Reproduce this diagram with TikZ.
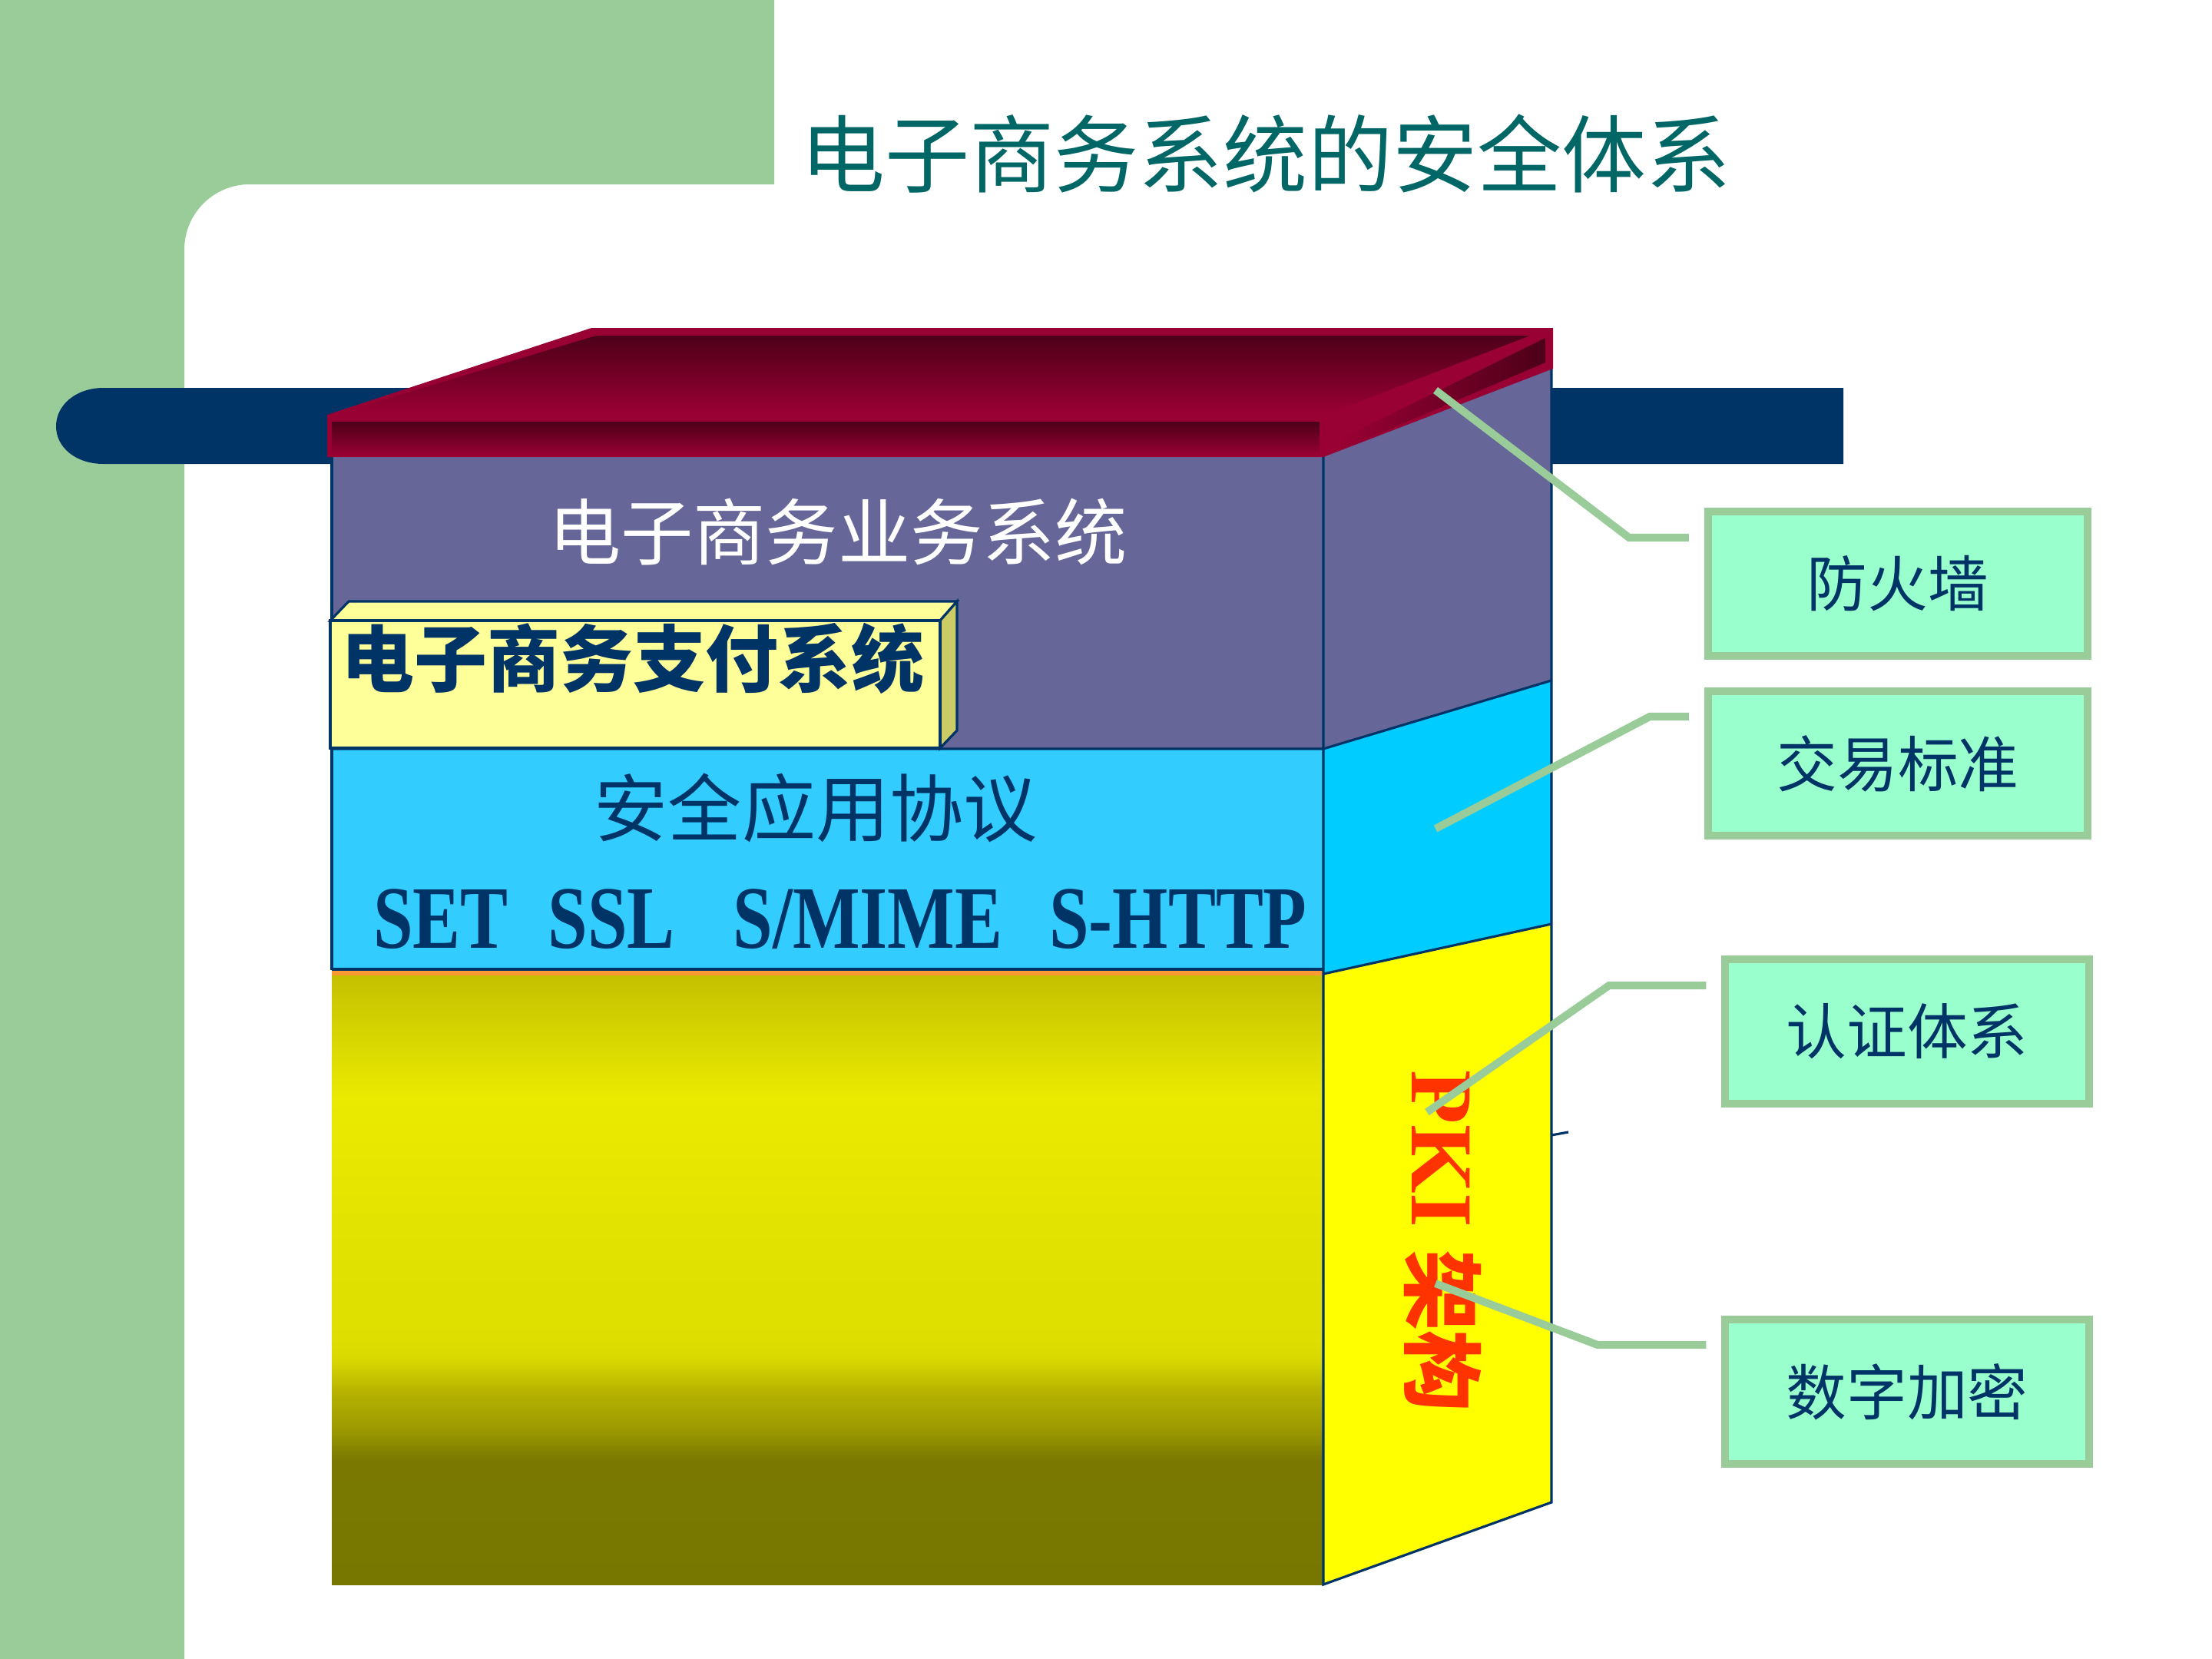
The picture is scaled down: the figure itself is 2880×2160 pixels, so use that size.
\documentclass[tikz,border=0pt]{standalone}
\usepackage{fontspec}
\usepackage{graphicx}
\newfontfamily\cjk{Noto Sans CJK SC}
\newfontfamily\tnr{Liberation Serif}
\newcommand\setfs[1]{\fontsize{#1}{#1}\selectfont}
\definecolor{bggreen}{HTML}{99CC99}
\definecolor{barblue}{HTML}{003366}
\definecolor{crimson}{HTML}{990033}
\definecolor{darkred}{HTML}{4D0019}
\definecolor{purp}{HTML}{666699}
\definecolor{cyanfront}{HTML}{33CCFF}
\definecolor{cyanside}{HTML}{00CCFF}
\definecolor{yside}{HTML}{FFFF00}
\definecolor{navy}{HTML}{003366}
\definecolor{teal6}{HTML}{006666}
\definecolor{pkired}{HTML}{FF3300}
\definecolor{payfill}{HTML}{FFFF99}
\definecolor{payside}{HTML}{CCCC66}
\definecolor{mint}{HTML}{99FFCC}
\definecolor{orangeline}{HTML}{FF9933}
\definecolor{ya}{HTML}{777700}
\definecolor{yb}{HTML}{7A7800}
\definecolor{yc}{HTML}{9A9800}
\definecolor{yd}{HTML}{B8B400}
\definecolor{ye}{HTML}{D8D800}
\definecolor{yf}{HTML}{DEDE00}
\definecolor{yg}{HTML}{E4E400}
\definecolor{yh}{HTML}{EAEA00}
\definecolor{yi}{HTML}{C4C000}
\pgfdeclareverticalshading{yellowgrad}{100bp}{color(0bp)=(ya); color(25bp)=(ya); color(35.19bp)=(yb); color(37.58bp)=(yc); color(40.97bp)=(yd); color(43.36bp)=(ye); color(45.06bp)=(yf); color(56.32bp)=(yg); color(64.81bp)=(yh); color(75bp)=(yi); color(100bp)=(yi)}
\tikzset{
  boxline/.style={draw=navy, line width=0.9pt},
  callout/.style={draw=bggreen, fill=mint, line width=2.85pt, minimum width=4.94cm, minimum height=1.87cm, inner sep=0pt, font=\cjk\setfs{22.4pt}, text=navy},
  conn/.style={draw=bggreen, line width=2.85pt, shorten <=0.2cm},
  label/.style={inner sep=0pt},
}
\begin{document}
\begin{tikzpicture}[x=0.01cm, y=-0.01cm]
\useasboundingbox (0,0) rectangle (2880,2160);
% background
\fill[white] (0,0) rectangle (2880,2160);
\fill[bggreen] (0,0) -- (1008,0) -- (1008,240) -- (325,240) .. controls (278,240) and (240,278) .. (240,325) -- (240,2160) -- (0,2160) -- cycle;
% dark bar
\fill[barblue] (2400,505) -- (135,505) .. controls (98,505) and (73,528) .. (73,555) .. controls (73,582) and (98,604) .. (135,604) -- (2400,604) -- cycle;
% front faces
\fill[purp] (432,595) rectangle (1723,975);
\fill[cyanfront] (432,975) rectangle (1723,1264);
\shade[shading=yellowgrad] (432,1268) rectangle (1723,2063);
\fill[orangeline] (432,1263) rectangle (1723,1270);
% side faces
\fill[purp] (1723,593) -- (2020,480) -- (2020,886) -- (1723,975) -- cycle;
\fill[cyanside] (1723,975) -- (2020,886) -- (2020,1203) -- (1723,1268) -- cycle;
\fill[yside] (1723,1268) -- (2020,1203) -- (2020,1956) -- (1723,2063) -- cycle;
% outlines
\draw[boxline] (432,595) -- (432,1263);
\draw[boxline] (432,975) -- (1723,975) -- (2020,886);
\draw[boxline] (432,1262) -- (1723,1262);
\draw[boxline] (1723,1268) -- (2020,1203);
\draw[boxline] (1723,593) -- (1723,2063) -- (2020,1956) -- (2020,480);
\draw[navy, line width=0.9pt] (2020,1478) -- (2042,1474);
% roof
\fill[crimson] (426,540) -- (770,427) -- (2022,427) -- (2022,480) -- (1723,595) -- (426,595) -- cycle;
\shade[top color=darkred, bottom color=crimson] (448,536) -- (776,437) -- (1992,437) -- (1733,537) -- cycle;
\shade[top color=darkred, bottom color=crimson] (432,549) rectangle (1718,593);
\shade[left color=crimson, right color=darkred] (1745,572) -- (2012,440) -- (2012,472) -- (1745,586) -- cycle;
% payment box
\filldraw[fill=payfill, boxline] (430,808) -- (454,783) -- (1246,783) -- (1224,808) -- cycle;
\filldraw[fill=payside, boxline] (1224,808) -- (1246,783) -- (1246,951) -- (1224,974) -- cycle;
\filldraw[fill=payfill, boxline] (430,808) rectangle (1224,974);
% texts
\node[label, font=\cjk\setfs{31.3pt}, text=teal6] (title) at (1648,200) {电子商务系统的安全体系};
\node[label, font=\cjk\setfs{26.8pt}, text=white] (biz) at (1091,692) {电子商务业务系统};
\node[label, font=\cjk\bfseries\setfs{27pt}, text=navy] (pay) at (824,857) {电子商务支付系统};
\node[label, font=\cjk\setfs{27.3pt}, text=navy] (proto) at (1062,1052) {安全应用协议};
\node[label, font=\tnr\bfseries\setfs{33pt}, text=navy, anchor=base] (set) at (574,1234) {\scalebox{0.8}[1]{SET}};
\node[label, font=\tnr\bfseries\setfs{33pt}, text=navy, anchor=base] (ssl) at (796,1234) {\scalebox{0.8}[1]{SSL}};
\node[label, font=\tnr\bfseries\setfs{33pt}, text=navy, anchor=base] (smime) at (1130,1234) {\scalebox{0.8}[1]{S/MIME}};
\node[label, font=\tnr\bfseries\setfs{33pt}, text=navy, anchor=base] (shttp) at (1534,1234) {\scalebox{0.8}[1]{S-HTTP}};
\node[label, rotate=-90, anchor=base, text=pkired] (pki) at (1838,1616) {\tnr\bfseries\setfs{32.7pt}PKI \cjk\bfseries\setfs{30pt}架构};
% callouts
\node[callout] (fw) at (2471,760) {防火墙};
\node[callout] (std) at (2471,994) {交易标准};
\node[callout, minimum width=4.73cm] (auth) at (2483,1343) {认证体系};
\node[callout, minimum width=4.73cm] (enc) at (2483,1812) {数字加密};
% connectors
\coordinate (fwK) at (2121,700);
\coordinate (fwP) at (1869,508);
\coordinate (stdK) at (2148,933);
\coordinate (stdP) at (1869,1079);
\coordinate (authK) at (2095,1283);
\coordinate (authP) at (1858,1448);
\coordinate (encK) at (2080,1751);
\coordinate (encP) at (1869,1671);
\draw[conn] (fw.west |- fwK) -- (fwK) -- (fwP);
\draw[conn] (std.west |- stdK) -- (stdK) -- (stdP);
\draw[conn] (auth.west |- authK) -- (authK) -- (authP);
\draw[conn] (enc.west |- encK) -- (encK) -- (encP);
\end{tikzpicture}
\end{document}
